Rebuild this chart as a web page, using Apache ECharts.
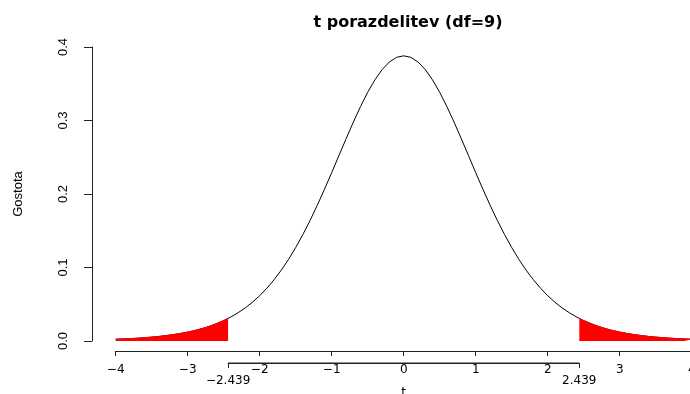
<!DOCTYPE html>
<html>
<head>
<meta charset="utf-8">
<script src="https://cdn.jsdelivr.net/npm/echarts@6/dist/echarts.min.js"></script>
<style>
html,body{margin:0;padding:0;background:#fff;overflow:hidden;}
#chart{width:690px;height:394px;}
</style>
</head>
<body>
<div id="chart"></div>
<script>
var tValues = [-4.0,-3.9,-3.8,-3.7,-3.6,-3.5,-3.4,-3.3,-3.2,-3.1,-3.0,-2.9,-2.8,-2.7,-2.6,-2.5,-2.4,-2.3,-2.2,-2.1,
  -2.0,-1.9,-1.8,-1.7,-1.6,-1.5,-1.4,-1.3,-1.2,-1.1,-1.0,-0.9,-0.8,-0.7,-0.6,-0.5,-0.4,-0.3,-0.2,-0.1,
  0.0,0.1,0.2,0.3,0.4,0.5,0.6,0.7,0.8,0.9,1.0,1.1,1.2,1.3,1.4,1.5,1.6,1.7,1.8,1.9,
  2.0,2.1,2.2,2.3,2.4,2.5,2.6,2.7,2.8,2.9,3.0,3.1,3.2,3.3,3.4,3.5,3.6,3.7,3.8,3.9,4.0];
var density = [0.0024,0.0028,0.0032,0.0038,0.0045,0.0053,0.0062,0.0074,0.0087,0.0103,0.0121,0.0143,0.0169,0.0200,0.0236,0.0278,0.0327,0.0385,0.0451,0.0528,
  0.0617,0.0719,0.0834,0.0964,0.1110,0.1272,0.1449,0.1641,0.1848,0.2065,0.2291,0.2522,0.2752,0.2977,0.3189,0.3384,0.3553,0.3692,0.3795,0.3859,
  0.3880,0.3859,0.3795,0.3692,0.3553,0.3384,0.3189,0.2977,0.2752,0.2522,0.2291,0.2065,0.1848,0.1641,0.1449,0.1272,0.1110,0.0964,0.0834,0.0719,
  0.0617,0.0528,0.0451,0.0385,0.0327,0.0278,0.0236,0.0200,0.0169,0.0143,0.0121,0.0103,0.0087,0.0074,0.0062,0.0053,0.0045,0.0038,0.0032,0.0028,0.0024];
var critT = [-2.439, 2.439];
var critDensity = [0.0307, 0.0307];
var xTicks = [-4, -3, -2, -1, 0, 1, 2, 3, 4];
var yTicks = [0, 0.1, 0.2, 0.3, 0.4];
var titleText = 't porazdelitev (df=9)';
var xName = 't';
var yName = 'Gostota';

var curve = tValues.map(function (t, i) { return [t, density[i]]; });
var leftTail = [];
var rightTail = [[critT[1], critDensity[1]]];
tValues.forEach(function (t, i) {
  if (t <= critT[0]) leftTail.push([t, density[i]]);
  if (t >= critT[1]) rightTail.push([t, density[i]]);
});
leftTail.push([critT[0], critDensity[0]]);

function minus(v) { return String(v).replace('-', '\u2212'); }

var sans = 'Liberation Sans, Arial, sans-serif';
var wide = 'DejaVu Sans, sans-serif';

var chart = echarts.init(document.getElementById('chart'));
chart.setOption({
  backgroundColor: '#fff',
  animation: false,
  title: {
    text: titleText,
    left: 403, top: 10, textAlign: 'center',
    textStyle: { fontFamily: wide, fontWeight: 'bold', fontSize: 16, color: '#000' }
  },
  grid: [
    { left: 115.7, width: 576, top: 47, height: 294, outerBoundsMode: 'none', containLabel: false },
    { left: 228.1, width: 351.2, top: 341, height: 22, outerBoundsMode: 'none', containLabel: false }
  ],
  xAxis: [
    {
      gridIndex: 0, type: 'value', min: -4, max: 4, interval: 1, offset: 10,
      name: xName, nameLocation: 'middle', nameGap: 36,
      nameTextStyle: { fontFamily: wide, fontSize: 12, color: '#000' },
      axisLine: { show: true, onZero: false, lineStyle: { color: '#222', width: 1 } },
      axisTick: { show: true, length: 5, lineStyle: { color: '#222' }, customValues: xTicks },
      axisLabel: { show: true, customValues: xTicks, margin: 13, fontFamily: wide, fontSize: 12, color: '#000', formatter: minus },
      splitLine: { show: false }
    },
    {
      gridIndex: 1, type: 'value', min: critT[0], max: critT[1], position: 'bottom', show: true,
      axisLine: { show: true, onZero: false, lineStyle: { color: '#222', width: 1 } },
      axisTick: { show: true, length: 5, lineStyle: { color: '#222' }, customValues: critT },
      axisLabel: { show: true, customValues: critT, margin: 12, fontFamily: wide, fontSize: 12, color: '#000', formatter: minus },
      splitLine: { show: false }
    }
  ],
  yAxis: [
    {
      gridIndex: 0, type: 'value', min: 0, max: 0.4, interval: 0.1, offset: 23.7,
      name: yName, nameLocation: 'middle', nameGap: 67, nameRotate: 90,
      nameTextStyle: { fontFamily: sans, fontSize: 13, color: '#000' },
      axisLine: { show: true, onZero: false, lineStyle: { color: '#222', width: 1 } },
      axisTick: { show: true, length: 8, lineStyle: { color: '#222' }, customValues: yTicks },
      axisLabel: { customValues: yTicks, rotate: 90, margin: 22, fontFamily: sans, fontSize: 13, color: '#000',
        formatter: function (v) { return Number(v).toFixed(1); } },
      splitLine: { show: false }
    },
    {
      gridIndex: 1, type: 'value', min: 0, max: 1, show: false,
      axisLine: { show: false, onZero: false }, axisTick: { show: false }, axisLabel: { show: false }, splitLine: { show: false }
    }
  ],
  series: [
    {
      type: 'line', xAxisIndex: 0, yAxisIndex: 0, data: curve, symbol: 'none', z: 2,
      lineStyle: { color: '#000', width: 1 }
    },
    {
      type: 'line', xAxisIndex: 0, yAxisIndex: 0, data: leftTail, symbol: 'none', z: 3,
      lineStyle: { color: '#ff0000', width: 1 }, areaStyle: { color: '#ff0000', opacity: 1 }
    },
    {
      type: 'line', xAxisIndex: 0, yAxisIndex: 0, data: rightTail, symbol: 'none', z: 3,
      lineStyle: { color: '#ff0000', width: 1 }, areaStyle: { color: '#ff0000', opacity: 1 }
    },
    {
      type: 'line', xAxisIndex: 1, yAxisIndex: 1, symbol: 'none', silent: true, clip: false,
      lineStyle: { color: '#222', width: 1 },
      data: critT.map(function (t) { return [t, 0]; })
    }
  ]
});
</script>
</body>
</html>
